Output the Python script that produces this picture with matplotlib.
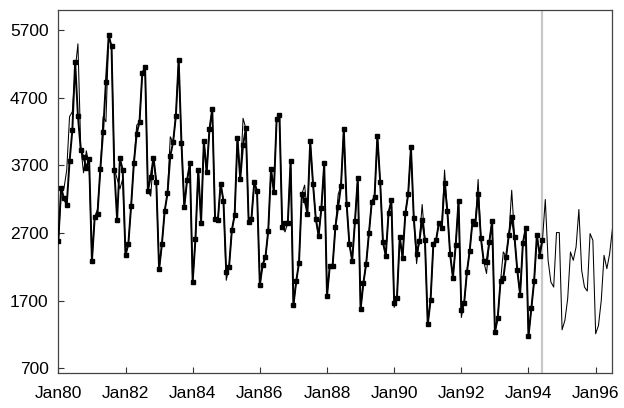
import matplotlib
matplotlib.use("Agg")
import matplotlib.pyplot as plt
import numpy as np

plt.rcParams['font.family'] = ['Liberation Sans', 'DejaVu Sans']

# Observed monthly values, Jan 1980 .. Jun 1994
actual = [
    2585, 3368, 3210, 3111, 3756, 4216, 5225, 4426, 3932, 3816, 3661, 3795,   # 1980
    2285, 2934, 2985, 3646, 4198, 4935, 5618, 5454, 3624, 2898, 3802, 3629,   # 1981
    2375, 2530, 3097, 3737, 4165, 4340, 5063, 5145, 3320, 3529, 3812, 3455,   # 1982
    2160, 2532, 3026, 3283, 3838, 4037, 4432, 5256, 4022, 3085, 3480, 3726,   # 1983
    1975, 2616, 3633, 2850, 4060, 3593, 4232, 4533, 2907, 2888, 3430, 3172,   # 1984
    2118, 2197, 2740, 2966, 4106, 3490, 3998, 4245, 2868, 2907, 3450, 3320,   # 1985
    1925, 2232, 2340, 2730, 3643, 3307, 4380, 4447, 2789, 2850, 2850, 3766,   # 1986
    1629, 1985, 2263, 3272, 3184, 2986, 4057, 3425, 2907, 2660, 3070, 3726,   # 1987
    1767, 2211, 2211, 2789, 3085, 3396, 4234, 3134, 2537, 2290, 2878, 3514,   # 1988
    1570, 1960, 2246, 2695, 3159, 3233, 4131, 3455, 2560, 2365, 3000, 3180,   # 1989
    1667, 1743, 2640, 2335, 2990, 3270, 3968, 2925, 2394, 2580, 2897, 2592,   # 1990
    1348, 1703, 2535, 2600, 2850, 2770, 3440, 3024, 2384, 2036, 2527, 3174,   # 1991
    1565, 1660, 2123, 2440, 2878, 2838, 3277, 2620, 2283, 2270, 2567, 2878,   # 1992
    1235, 1440, 1984, 2030, 2350, 2675, 2937, 2640, 2147, 1787, 2550, 2770,   # 1993
    1175, 1585, 1984, 2675, 2364, 2600,                                       # 1994
]

# Fitted values (Jan 1980 .. Jun 1994) followed by forecasts (Jul 1994 .. Jul 1996)
fitted = [
    2585, 3300, 3357, 3628, 4417, 4491, 5100, 5493, 3973, 3588, 3913, 3700,   # 1980
    2285, 2934, 3050, 3600, 4417, 4343, 5618, 5454, 3650, 3500, 3350, 3500,   # 1981
    2375, 2530, 3097, 3737, 4290, 4340, 5063, 5145, 3320, 3243, 3812, 3455,   # 1982
    2160, 2532, 3026, 3283, 4120, 4037, 4432, 5256, 4022, 3085, 3480, 3726,   # 1983
    1975, 2616, 3633, 2850, 4060, 3593, 4232, 4533, 2907, 2888, 3430, 3172,   # 1984
    2000, 2197, 2740, 2966, 4106, 3490, 4393, 4245, 2868, 2907, 3450, 3320,   # 1985
    1925, 2232, 2340, 2730, 3643, 3307, 4380, 4447, 2789, 2715, 2850, 3766,   # 1986
    1629, 1985, 2263, 3272, 3406, 2986, 4057, 3425, 2907, 2660, 3070, 3726,   # 1987
    1767, 2211, 2211, 2789, 3272, 3396, 4234, 3134, 2537, 2290, 2878, 3514,   # 1988
    1570, 1960, 2246, 2695, 3159, 3233, 4131, 3455, 2560, 2365, 3000, 3180,   # 1989
    1600, 1743, 2640, 2335, 2990, 3270, 3968, 2925, 2246, 2580, 3120, 2592,   # 1990
    1348, 1703, 2535, 2600, 2850, 2770, 3628, 3024, 2384, 2036, 2527, 3174,   # 1991
    1450, 1660, 2123, 2440, 2878, 2838, 3490, 2620, 2283, 2100, 2567, 2878,   # 1992
    1235, 1440, 1984, 2420, 2350, 2675, 3330, 2640, 2147, 1787, 2550, 2770,   # 1993
    1175, 1585, 1984, 2600, 2443, 2600,                                       # 1994 (fit)
    3194, 2295, 1975, 1900, 2705, 2705,                                       # 1994 (forecast)
    1269, 1407, 1728, 2418, 2295, 2492, 3046, 2147, 1900, 1841, 2690, 2591,   # 1995
    1210, 1333, 1703, 2369, 2172, 2393, 2764,                                 # 1996
]

tick_labels = ["Jan80", "Jan82", "Jan84", "Jan86", "Jan88", "Jan90", "Jan92", "Jan94", "Jan96"]
y_ticks = [700, 1700, 2700, 3700, 4700, 5700]

months_actual = np.arange(len(actual))
months_fitted = np.arange(len(fitted))
origin = len(actual) - 1

fig = plt.figure(figsize=(6.24, 4.08), dpi=100)
ax = fig.add_axes([0.0935, 0.085, 0.888, 0.89])

ax.axvline(origin, color='#c8c8c8', lw=1.6, zorder=1)
ax.plot(months_fitted, fitted, color='black', lw=0.75, zorder=2)
ax.plot(months_actual, actual, color='black', lw=1.4, marker='s', ms=2.6, zorder=3)

ax.set_xlim(0, 198)
ax.set_ylim(626, 5990)
ax.set_xticks(np.arange(len(tick_labels)) * 24)
ax.set_xticklabels(tick_labels)
ax.set_yticks(y_ticks)
ax.set_yticklabels([str(v) for v in y_ticks])
ax.tick_params(direction='in', length=4, width=0.8, labelsize=12.5, colors='#333333',
               labelcolor='black')
ax.tick_params(axis='x', pad=9)
ax.tick_params(axis='y', pad=7)
for s in ax.spines.values():
    s.set_color('#444444')
    s.set_linewidth(0.9)

fig.savefig('out.png', dpi=100)
